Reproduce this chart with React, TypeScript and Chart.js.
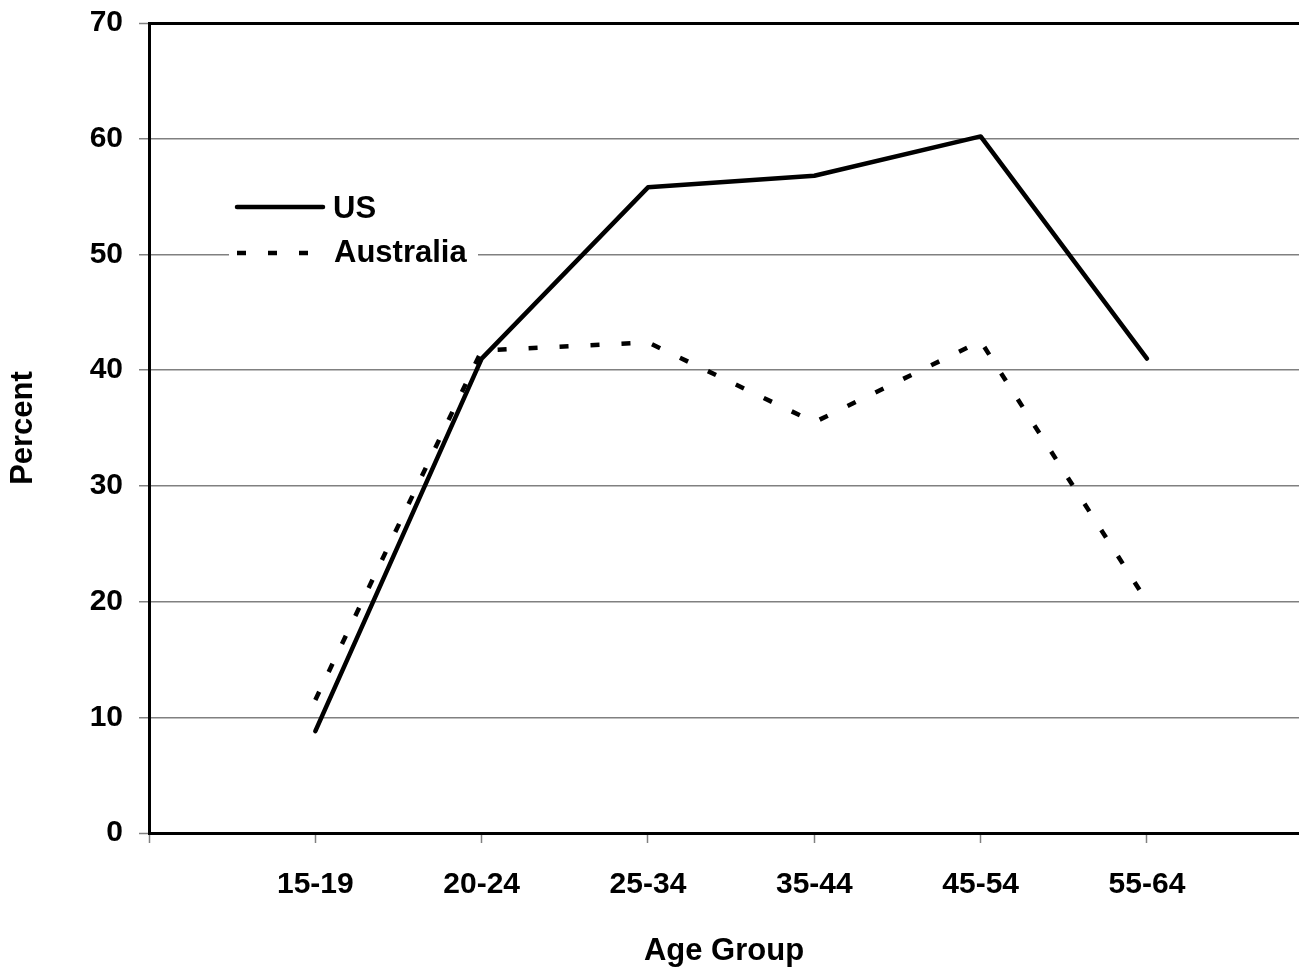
import React, { useEffect, useRef } from 'react';
import { Chart, registerables } from 'chart.js';

Chart.register(...registerables);

const categories = ['15-19', '20-24', '25-34', '35-44', '45-54', '55-64'];
const usValues = [8.8, 41.0, 55.8, 56.8, 60.2, 41.0];
const australiaValues = [11.5, 41.7, 42.4, 35.5, 42.5, 20.0];
const yTickValues = [0, 10, 20, 30, 40, 50, 60, 70];
const xTickSlots = [0, 1, 2, 3, 4, 5, 6];
const seriesNames = ['US', 'Australia'];
const xTitle = 'Age Group';
const yTitle = 'Percent';

const FAMILY = '"Liberation Sans", Arial, Helvetica, sans-serif';
const tickFont = { family: FAMILY, size: 30, weight: 'bold' as const };
const titleFont = { family: FAMILY, size: 31, weight: 'bold' as const };
const GRID_GRAY = '#808080';

export default function App() {
  const ref = useRef<HTMLCanvasElement>(null);

  useEffect(() => {
    document.body.style.margin = '0';
    const canvas = ref.current;
    if (!canvas) return;

    const insideLegend = {
      id: 'insideLegend',
      afterDraw(chart: any) {
        const ctx = chart.ctx as CanvasRenderingContext2D;
        const a = chart.chartArea;
        const bx = a.left + 80;
        const by = a.top + 159;
        ctx.save();
        ctx.fillStyle = '#ffffff';
        ctx.fillRect(bx, by, 249, 92);
        ctx.strokeStyle = '#000';
        ctx.lineWidth = 4.5;
        // US sample
        ctx.lineCap = 'round';
        ctx.setLineDash([]);
        ctx.beginPath();
        ctx.moveTo(bx + 8, by + 25);
        ctx.lineTo(bx + 94, by + 25);
        ctx.stroke();
        // Australia sample
        ctx.lineCap = 'butt';
        ctx.setLineDash([9, 22]);
        ctx.beginPath();
        ctx.moveTo(bx + 8, by + 71);
        ctx.lineTo(bx + 90, by + 71);
        ctx.stroke();
        ctx.setLineDash([]);
        ctx.fillStyle = '#000';
        ctx.font = `bold ${titleFont.size}px ${FAMILY}`;
        ctx.textBaseline = 'middle';
        ctx.textAlign = 'left';
        ctx.fillText(seriesNames[0], bx + 104, by + 27);
        ctx.fillText(seriesNames[1], bx + 105, by + 71);
        ctx.restore();
      },
    };

    const chart = new Chart(canvas, {
      type: 'line',
      data: {
        datasets: [
          {
            label: seriesNames[0],
            data: usValues.map((v, i) => ({ x: i + 1, y: v })),
            borderColor: '#000',
            borderWidth: 4.5,
            pointRadius: 0,
            borderCapStyle: 'round',
            borderJoinStyle: 'round',
            tension: 0,
            fill: false,
          },
          {
            label: seriesNames[1],
            data: australiaValues.map((v, i) => ({ x: i + 1, y: v })),
            borderColor: '#000',
            borderWidth: 4.5,
            borderDash: [9, 22],
            pointRadius: 0,
            borderCapStyle: 'butt',
            borderJoinStyle: 'miter',
            tension: 0,
            fill: false,
          },
        ],
      },
      options: {
        responsive: false,
        animation: false,
        layout: { padding: { top: 23, left: 0, right: 0, bottom: 0 } },
        plugins: {
          legend: { display: false },
          tooltip: { enabled: false },
        },
        scales: {
          x: {
            type: 'linear',
            min: 0,
            max: 6.914,
            afterBuildTicks: (s: any) => {
              s.ticks = xTickSlots.map((v) => ({ value: v }));
            },
            afterFit: (s: any) => {
              s.height = 140;
              s.paddingLeft = 0;
              s.paddingRight = 0;
            },
            ticks: {
              font: tickFont,
              color: '#000',
              padding: 24,
              autoSkip: false,
              maxRotation: 0,
              callback: (v: any) => categories[Number(v) - 1] ?? '',
            },
            grid: {
              drawOnChartArea: false,
              drawTicks: true,
              tickLength: 10,
              tickColor: GRID_GRAY,
              tickWidth: 1.5,
            },
            border: { color: '#000', width: 3 },
            title: {
              display: true,
              text: xTitle,
              font: titleFont,
              color: '#000',
              padding: { top: 0, bottom: 3 },
            },
          },
          y: {
            min: 0,
            max: 70,
            afterBuildTicks: (s: any) => {
              s.ticks = yTickValues.map((v) => ({ value: v }));
            },
            afterFit: (s: any) => {
              s.width = 149;
              s.paddingTop = 0;
              s.paddingBottom = 0;
            },
            ticks: { font: tickFont, color: '#000', padding: 16 },
            grid: {
              color: (c: any) =>
                c.tick && (c.tick.value === 70 || c.tick.value === 0) ? '#000' : GRID_GRAY,
              lineWidth: (c: any) =>
                c.tick && (c.tick.value === 70 || c.tick.value === 0) ? 3 : 1.5,
              tickLength: 10,
              tickColor: GRID_GRAY,
              tickWidth: 1.5,
            },
            border: { color: '#000', width: 3 },
            title: {
              display: true,
              text: yTitle,
              font: titleFont,
              color: '#000',
              padding: { top: 5, bottom: 0 },
            },
          },
        },
      },
      plugins: [insideLegend],
    } as any);

    return () => chart.destroy();
  }, []);

  return <canvas ref={ref} width={1299} height={973} style={{ display: 'block' }} />;
}
